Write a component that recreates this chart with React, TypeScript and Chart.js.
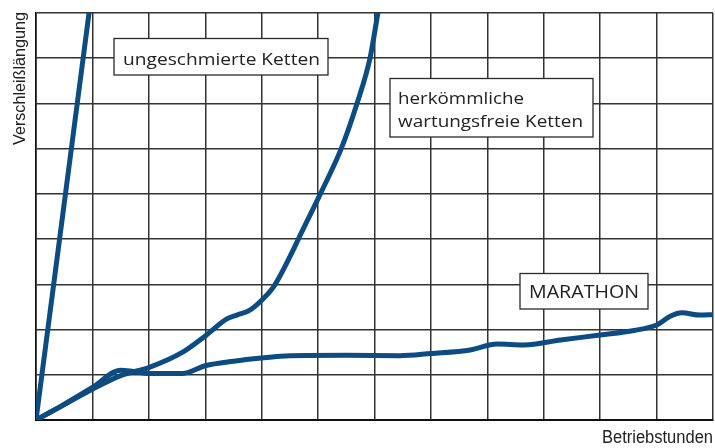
import { useEffect, useRef } from "react";
import { Chart, registerables } from "chart.js";

Chart.register(...registerables);

// Grid: 12 columns (Betriebstunden), 9 rows (Verschleißlängung)
const xMax = 12;
const yMax = 9;

// ungeschmierte Ketten
const ungeschmiertX = [0, 0.94];
const ungeschmiertY = [0, 9.0];

// herkömmliche wartungsfreie Ketten
const herkoemmlichX = [0, 0.48, 1.0, 1.5, 2.02, 2.6, 3.0, 3.39, 3.56, 3.79, 4.0, 4.22, 4.56, 4.65, 5.04, 5.41, 5.69, 5.92, 6.06];
const herkoemmlichY = [0, 0.33, 0.68, 0.98, 1.17, 1.5, 1.86, 2.24, 2.32, 2.43, 2.65, 2.96, 3.76, 4.0, 5.0, 6.0, 7.0, 8.0, 9.0];

// MARATHON
const marathonX = [0, 0.48, 1.0, 1.5, 1.7, 2.0, 2.6, 3.0, 3.5, 4.0, 4.5, 5.5, 6.45, 7.0, 7.7, 8.17, 8.65, 9.3, 10.0, 10.6, 11.0, 11.25, 11.45, 11.77, 12.0];
const marathonY = [0, 0.33, 0.72, 1.1, 1.08, 1.03, 1.03, 1.2, 1.3, 1.37, 1.42, 1.43, 1.42, 1.47, 1.55, 1.68, 1.66, 1.77, 1.88, 1.98, 2.1, 2.3, 2.37, 2.32, 2.33];

const seriesLabels = ["ungeschmierte Ketten", "herkömmliche wartungsfreie Ketten", "MARATHON"];
const xTitle = "Betriebstunden";
const yTitle = "Verschleißlängung";

const toPoints = (xs: number[], ys: number[]) => xs.map((x, i) => ({ x, y: ys[i] }));

const LINE_COLOR = "#0c4c82";
const GRID_COLOR = "#333333";
const TEXT_COLOR = "#222222";

function fitText(ctx: CanvasRenderingContext2D, text: string, x: number, y: number, width: number, size: number, family: string) {
  ctx.font = `${size}px ${family}`;
  const w = ctx.measureText(text).width;
  ctx.save();
  ctx.translate(x, y);
  ctx.scale(width / w, 1);
  ctx.textAlign = "left";
  ctx.textBaseline = "alphabetic";
  ctx.fillText(text, 0, 0);
  ctx.restore();
}

function box(ctx: CanvasRenderingContext2D, x0: number, y0: number, x1: number, y1: number) {
  ctx.save();
  ctx.fillStyle = "#ffffff";
  ctx.fillRect(x0, y0, x1 - x0, y1 - y0);
  ctx.strokeStyle = "#2a2a2a";
  ctx.lineWidth = 1.3;
  ctx.strokeRect(x0, y0, x1 - x0, y1 - y0);
  ctx.restore();
}

const labelPlugin = {
  id: "labels",
  afterDraw(chart: any) {
    const ctx: CanvasRenderingContext2D = chart.ctx;
    const boxFont = "'Open Sans', 'Liberation Sans', sans-serif";
    const axisFont = "'Liberation Sans', Arial, sans-serif";
    ctx.save();
    ctx.fillStyle = TEXT_COLOR;

    box(ctx, 114, 38.5, 328, 75);
    ctx.fillStyle = TEXT_COLOR;
    fitText(ctx, seriesLabels[0], 123, 65, 197, 17, boxFont);

    box(ctx, 390, 78.5, 593, 137);
    ctx.fillStyle = TEXT_COLOR;
    fitText(ctx, "herkömmliche", 398, 104, 126, 17, boxFont);
    fitText(ctx, "wartungsfreie Ketten", 398, 127, 185, 17, boxFont);

    box(ctx, 520, 273.5, 648, 309);
    ctx.fillStyle = TEXT_COLOR;
    fitText(ctx, seriesLabels[2], 529, 298, 110, 17.5, boxFont);

    // axis titles
    fitText(ctx, xTitle, 602, 443, 111, 17.5, axisFont);
    ctx.save();
    ctx.translate(25, 145);
    ctx.rotate(-Math.PI / 2);
    fitText(ctx, yTitle, 0, 0, 133, 17, axisFont);
    ctx.restore();

    ctx.restore();
  },
};

export default function App() {
  const ref = useRef<HTMLCanvasElement | null>(null);

  useEffect(() => {
    if (!ref.current) return;
    const lineDs = (label: string, data: any[]) => ({
      label,
      data,
      borderColor: LINE_COLOR,
      backgroundColor: LINE_COLOR,
      borderWidth: 5,
      pointRadius: 0,
      cubicInterpolationMode: "monotone" as const,
      fill: false,
      borderCapStyle: "round" as const,
    });
    const chart = new Chart(ref.current, {
      type: "line",
      data: {
        datasets: [
          lineDs(seriesLabels[0], toPoints(ungeschmiertX, ungeschmiertY)),
          lineDs(seriesLabels[1], toPoints(herkoemmlichX, herkoemmlichY)),
          lineDs(seriesLabels[2], toPoints(marathonX, marathonY)),
        ],
      },
      options: {
        animation: false,
        responsive: false,
        maintainAspectRatio: false,
        devicePixelRatio: 1,
        layout: { padding: { left: 36, top: 13, right: 2, bottom: 28 } },
        plugins: { legend: { display: false }, tooltip: { enabled: false } },
        scales: {
          x: {
            type: "linear",
            min: 0,
            max: xMax,
            ticks: { display: false, stepSize: 1 },
            grid: { color: GRID_COLOR, lineWidth: 1.5, drawTicks: false },
            border: { color: "#111111", width: 2 },
          },
          y: {
            type: "linear",
            min: 0,
            max: yMax,
            ticks: { display: false, stepSize: 1 },
            grid: { color: GRID_COLOR, lineWidth: 1.5, drawTicks: false },
            border: { color: "#111111", width: 1.6 },
          },
        },
      },
      plugins: [labelPlugin],
    });
    return () => chart.destroy();
  }, []);

  return (
    <div style={{ position: "absolute", left: 0, top: 0, width: 715, height: 448, background: "#fff" }}>
      <canvas ref={ref} width={715} height={448} style={{ width: 715, height: 448 }} />
    </div>
  );
}
